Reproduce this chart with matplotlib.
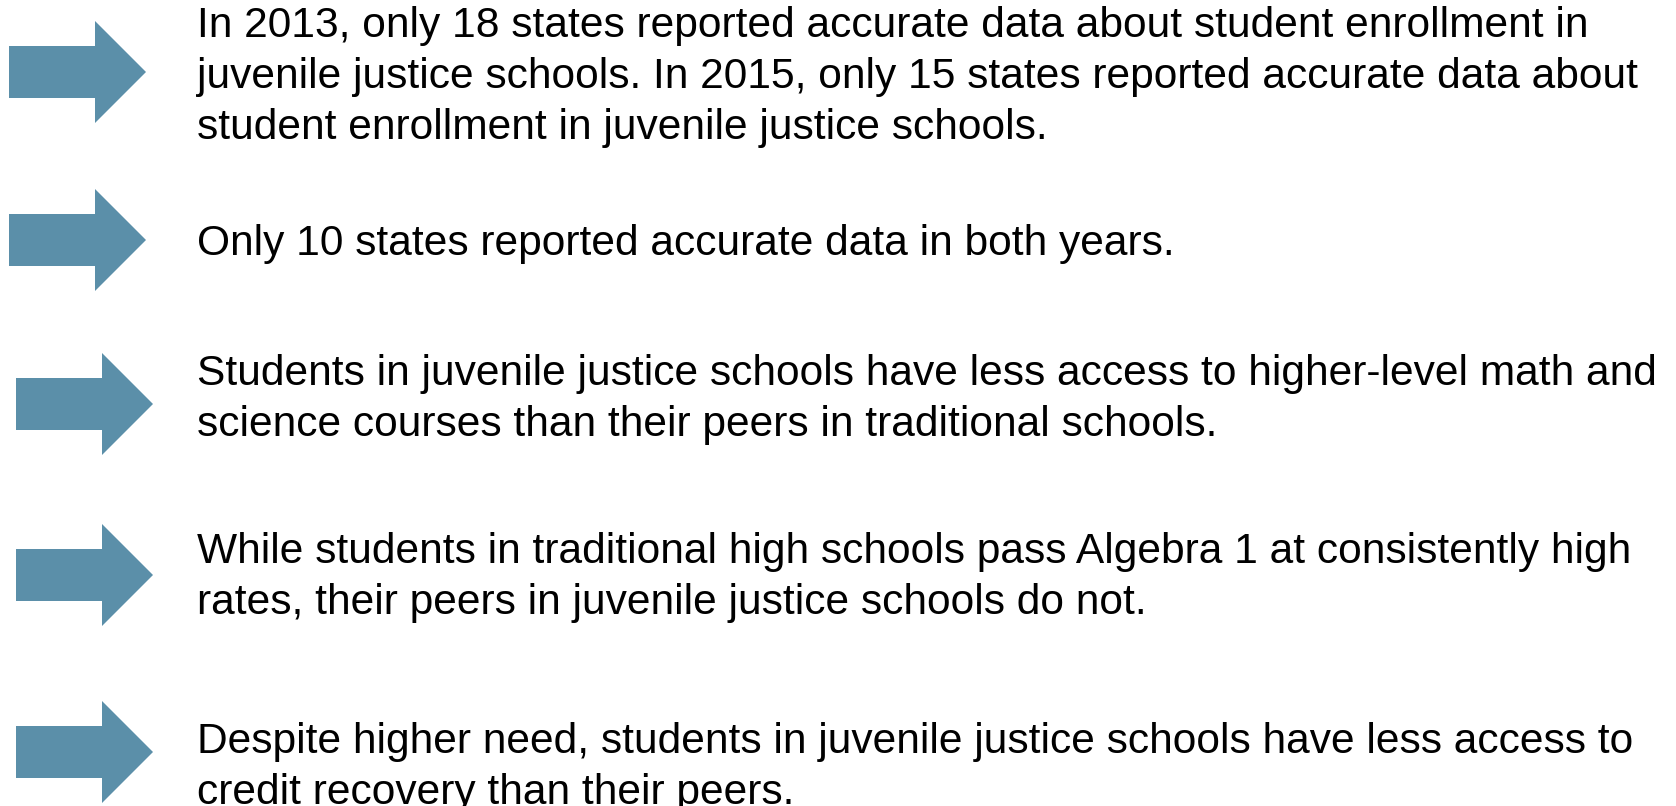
import matplotlib
matplotlib.use("Agg")
import matplotlib.pyplot as plt
from matplotlib.patches import Polygon

# bullet texts, one list of lines per arrow
blocks = [
    ["In 2013, only 18 states reported accurate data about student enrollment in",
     "juvenile justice schools. In 2015, only 15 states reported accurate data about",
     "student enrollment in juvenile justice schools."],
    ["Only 10 states reported accurate data in both years."],
    ["Students in juvenile justice schools have less access to higher-level math and",
     "science courses than their peers in traditional schools."],
    ["While students in traditional high schools pass Algebra 1 at consistently high",
     "rates, their peers in juvenile justice schools do not."],
    ["Despite higher need, students in juvenile justice schools have less access to",
     "credit recovery than their peers."],
]
arrow_y = [72, 240, 404, 575, 752]
arrow_x = [9, 9, 16, 16, 16]
first_baseline = [37, 255, 385, 563, 753]

arrow_color = "#5B8FA9"
line_gap = 51
text_x = 197

fig = plt.figure(figsize=(16.76, 8.06), dpi=100)
ax = fig.add_axes([0, 0, 1, 1])
ax.set_xlim(0, 1676)
ax.set_ylim(806, 0)
ax.axis("off")

for x0, yc in zip(arrow_x, arrow_y):
    shaft = 26      # half height of the shaft
    head = 51       # half height of the head
    base = x0 + 86  # where the head starts
    tip = x0 + 137
    pts = [(x0, yc - shaft), (base, yc - shaft), (base, yc - head), (tip, yc),
           (base, yc + head), (base, yc + shaft), (x0, yc + shaft)]
    ax.add_patch(Polygon(pts, closed=True, facecolor=arrow_color, edgecolor="none"))

for lines, y0 in zip(blocks, first_baseline):
    for i, line in enumerate(lines):
        ax.text(text_x, y0 + i * line_gap, line, fontsize=30.6,
                family="Liberation Sans", color="black", va="baseline", ha="left")

fig.savefig("out.png", dpi=100, facecolor="white")
